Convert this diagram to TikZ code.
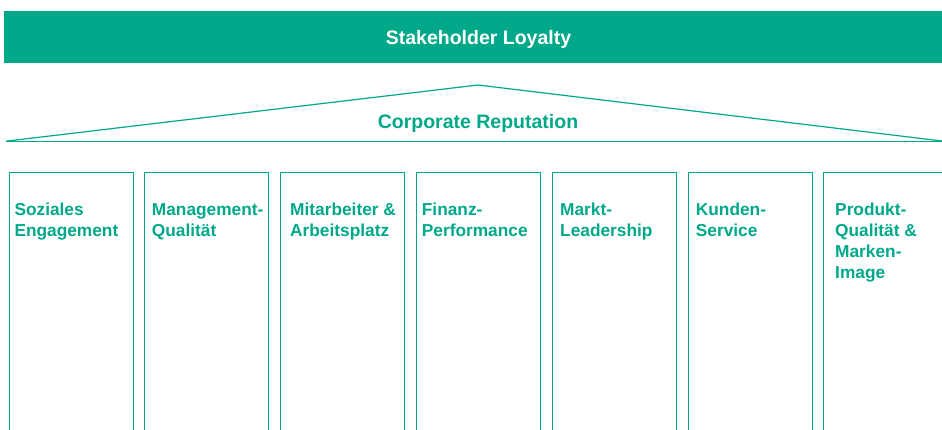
\documentclass[tikz,border=0pt]{standalone}
\usepackage{fontspec}
\setmainfont{Liberation Sans}
\definecolor{brandgreen}{RGB}{0,168,138}
\begin{document}
\begin{tikzpicture}[x=1pt,y=-1pt,
  line/.style={draw=brandgreen,line width=1.2pt},
  title/.style={font=\fontsize{19.5}{23}\selectfont\bfseries,inner sep=0pt,anchor=base},
  pillartext/.style={font=\fontsize{17.3}{21}\selectfont\bfseries,text=brandgreen,align=left,inner sep=0pt,anchor=base west}]
\useasboundingbox (0,0) rectangle (942,429);
\clip (0,0) rectangle (942,429);
% top banner
\fill[brandgreen] (4,11) rectangle (950,62.5);
\node[title,text=white] (loyalty) at (478.5,44) {Stakeholder Loyalty};
% roof
\coordinate (roofL) at (6,141.2);
\coordinate (roofT) at (478,85);
\coordinate (roofR) at (942,141);
\draw[line] (roofL) -- (roofT) -- (roofR);
\draw[line,line width=1pt] (roofL) -- (944,141.2);
\node[title,text=brandgreen] (reputation) at (478,128) {Corporate Reputation};
% pillars (open at the bottom)
\foreach \i in {0,...,6}{
  \draw[line,line width=1pt] (9+135.8*\i,440) -- (9+135.8*\i,172.3) -- (133+135.8*\i,172.3) -- (133+135.8*\i,440);
}
% pillar labels: the base anchor sits on the last line
\node[pillartext] (p1) at (14.3,236) {Soziales\\Engagement};
\node[pillartext] (p2) at (151.7,236) {Management-\\Qualität};
\node[pillartext] (p3) at (290,236) {Mitarbeiter \&\\Arbeitsplatz};
\node[pillartext] (p4) at (421.7,236) {Finanz-\\Performance};
\node[pillartext] (p5) at (560,236) {Markt-\\Leadership};
\node[pillartext] (p6) at (695.7,236) {Kunden-\\Service};
\node[pillartext] (p7) at (835,278) {Produkt-\\Qualität \&\\Marken-\\Image};
\end{tikzpicture}
\end{document}
